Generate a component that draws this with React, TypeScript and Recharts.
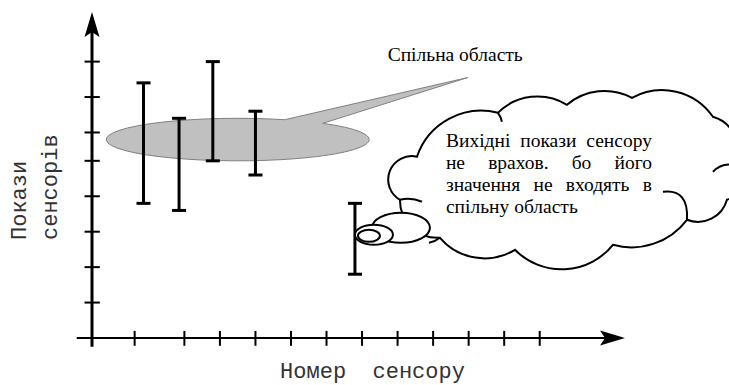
import React from "react";
import {
  ScatterChart,
  Scatter,
  XAxis,
  YAxis,
  ErrorBar,
  ReferenceLine,
  ReferenceArea,
  ReferenceDot,
} from "recharts";

// sensor readings: position on the axis and the [low, high] range of each one
const sensors = [1.45, 2.45, 3.4, 4.6, 7.4];
const lows = [3.8, 3.6, 5.0, 4.6, 1.8];
const highs = [7.2, 6.2, 7.8, 6.4, 3.8];

const xTicks = [1.2, 2.6, 3.6, 4.6, 5.6, 6.6, 7.6, 8.6, 9.6, 10.6, 11.6, 12.6];
const yTicks = [1, 2, 3, 4, 5, 5.8, 6.8, 7.8];

const cloudLines = [
  "Вихідні покази сенсору",
  "не врахов. бо його",
  "значення не входять в",
  "спільну область",
];

const X_MAX = 15;
const Y_MAX = 9.2;
const AGREEING = 4; // first four sensors overlap, the fifth doesn't

const points = sensors.map((x, i) => ({
  x,
  mid: (lows[i] + highs[i]) / 2,
  err: (highs[i] - lows[i]) / 2,
}));
const commonLow = Math.max(...lows.slice(0, AGREEING));
const commonHigh = Math.min(...highs.slice(0, AGREEING));
const outlier = points[AGREEING];

const MONO = "'Liberation Mono', 'Courier New', monospace";
const SERIF = "'Liberation Serif', 'Times New Roman', serif";
const SERIF_SIZE = 19.5;

let ctx: CanvasRenderingContext2D | null = null;
const textWidth = (s: string) => {
  if (!ctx) ctx = document.createElement("canvas").getContext("2d");
  if (!ctx) return s.length * SERIF_SIZE * 0.45;
  ctx.font = `${SERIF_SIZE}px "Liberation Serif"`;
  return ctx.measureText(s).width;
};

// axis line with a filled arrow head at the second point
const arrowShape = (w: number) => (p: any) => {
  const { x1, y1, x2, y2 } = p;
  const len = Math.hypot(x2 - x1, y2 - y1);
  const ux = (x2 - x1) / len;
  const uy = (y2 - y1) / len;
  const nx = -uy;
  const ny = ux;
  const head = 25;
  const half = 7.5;
  const bx = x2 - ux * head;
  const by = y2 - uy * head;
  const kx = x2 - ux * (head - 5);
  const ky = y2 - uy * (head - 5);
  return (
    <g>
      <line x1={x1} y1={y1} x2={kx} y2={ky} stroke="#000" strokeWidth={w} />
      <polygon
        points={`${x2},${y2} ${bx + nx * half},${by + ny * half} ${kx},${ky} ${bx - nx * half},${by - ny * half}`}
        fill="#000"
      />
    </g>
  );
};

// grey ellipse over the common range, with a pointer to its caption
const CommonRegion = (p: any) => {
  const { x, y, width, height } = p;
  const rx = width / 2;
  const ry = height / 2;
  const cx = x + rx;
  const cy = y + ry;
  const top = (dx: number) => cy - ry * Math.sqrt(1 - (dx / rx) ** 2);
  const a = 47;
  const b = 85;
  const d = `M${cx + a},${top(a)} L${cx + 230},${cy - 62} L${cx + b},${top(b)} A${rx},${ry} 0 1 1 ${cx + a},${top(a)} Z`;
  return (
    <g>
      <path d={d} fill="#c0c0c0" stroke="#808080" strokeWidth={1} />
      <text x={cx + 150} y={cy - 79} fontFamily={SERIF} fontSize={SERIF_SIZE} fill="#000">
        Спільна область
      </text>
    </g>
  );
};

// thought cloud, drawn relative to the outlier's mid point
const cloudOutline: [number, number, number][] = [
  [45, -39, 12],
  [62, -82, 20],
  [143, -126, 18],
  [212, -134, 12],
  [277, -141, 10],
  [358, -122, 16],
  [380, -74, 12],
  [372, -39, 10],
  [332, -19, 10],
  [258, 6, 12],
  [160, 11, 22],
  [85, -1, 14],
];
// short inner strokes at some bump joints: start, control, end
const cloudTails: number[][] = [
  [45, -39, 56, -42, 67, -37],
  [85, -1, 80, 3, 74, 4],
  [332, -19, 334, -50, 308, -47],
  [380, -74, 366, -76, 358, -67],
  [143, -126, 146, -122, 147, -117],
];

const JustifiedLine = ({ x, y, width, text }: any) => {
  const words = text.split(" ");
  const widths = words.map(textWidth);
  const total = widths.reduce((s: number, w: number) => s + w, 0);
  const gap = Math.max(4, (width - total) / (words.length - 1));
  let cur = x;
  return (
    <text y={y} fontFamily={SERIF} fontSize={SERIF_SIZE} fill="#000">
      {words.map((w: string, i: number) => {
        const el = (
          <tspan key={i} x={cur}>
            {w}
          </tspan>
        );
        cur += widths[i] + gap;
        return el;
      })}
    </text>
  );
};

const Cloud = (p: any) => {
  const { cx, cy } = p;
  const n = cloudOutline.length;
  let d = `M${cx + cloudOutline[n - 1][0]},${cy + cloudOutline[n - 1][1]}`;
  let prev = cloudOutline[n - 1];
  cloudOutline.forEach((pt) => {
    const c = Math.hypot(pt[0] - prev[0], pt[1] - prev[1]);
    const s = pt[2];
    const r = (c * c) / 4 / (2 * s) + s / 2;
    d += ` A${r},${r} 0 0 1 ${cx + pt[0]},${cy + pt[1]}`;
    prev = pt;
  });
  return (
    <g>
      <path d={d + " Z"} fill="#fff" stroke="#000" strokeWidth={2} />
      {cloudTails.map((t, i) => (
        <path
          key={i}
          d={`M${cx + t[0]},${cy + t[1]} Q${cx + t[2]},${cy + t[3]} ${cx + t[4]},${cy + t[5]}`}
          fill="none"
          stroke="#000"
          strokeWidth={2}
        />
      ))}
      <ellipse cx={cx + 46} cy={cy - 11} rx={29} ry={15} fill="#fff" stroke="#000" strokeWidth={2} />
      <ellipse cx={cx + 19} cy={cy - 4} rx={19} ry={10} fill="#fff" stroke="#000" strokeWidth={2} />
      <ellipse cx={cx + 14} cy={cy - 3} rx={11} ry={6} fill="#fff" stroke="#000" strokeWidth={2} />
      {cloudLines.map((line, i) =>
        i < cloudLines.length - 1 ? (
          <JustifiedLine key={i} x={cx + 91} y={cy - 92 + i * 22} width={206} text={line} />
        ) : (
          <text key={i} x={cx + 91} y={cy - 92 + i * 22} fontFamily={SERIF} fontSize={SERIF_SIZE} fill="#000">
            {line}
          </text>
        )
      )}
    </g>
  );
};

const App = () => {
  return (
    <div style={{ position: "absolute", left: 0, top: 0, background: "#fff" }}>
      <ScatterChart width={729} height={385} margin={{ top: 12, right: 104, bottom: 0, left: 0 }}>
        <XAxis
          type="number"
          dataKey="x"
          domain={[0, X_MAX]}
          ticks={xTicks}
          allowDataOverflow
          height={47}
          tick={false}
          tickLine={false}
          axisLine={false}
          label={{
            content: ({ viewBox }: any) => (
              <text
                x={viewBox.x + viewBox.width / 2 + 14}
                y={viewBox.y + 40}
                textAnchor="middle"
                fontFamily={MONO}
                fontSize={22}
                fill="#333"
                style={{ whiteSpace: "pre" }}
              >
                {"Номер  сенсору"}
              </text>
            ),
          }}
        />
        <YAxis
          type="number"
          dataKey="mid"
          domain={[0, Y_MAX]}
          ticks={yTicks}
          allowDataOverflow
          width={92}
          tick={false}
          tickLine={false}
          axisLine={false}
          label={{
            content: () => (
              <g fontFamily={MONO} fontSize={22} fill="#333">
                <text transform="translate(26,240) rotate(-90)">Покази</text>
                <text transform="translate(57,240) rotate(-90)">сенсорів</text>
              </g>
            ),
          }}
        />

        <ReferenceArea
          x1={0.4}
          x2={7.8}
          y1={commonLow}
          y2={commonHigh}
          ifOverflow="visible"
          shape={CommonRegion}
        />

        <ReferenceLine
          segment={[{ x: -0.43, y: 0 }, { x: X_MAX, y: 0 }]}
          ifOverflow="visible"
          shape={arrowShape(2)}
        />
        <ReferenceLine
          segment={[{ x: 0, y: -0.25 }, { x: 0, y: Y_MAX }]}
          ifOverflow="visible"
          shape={arrowShape(3)}
        />
        {xTicks.map((t) => (
          <ReferenceLine
            key={"x" + t}
            segment={[{ x: t, y: -0.22 }, { x: t, y: 0.2 }]}
            ifOverflow="visible"
            stroke="#000"
            strokeWidth={2}
          />
        ))}
        {yTicks.map((t) => (
          <ReferenceLine
            key={"y" + t}
            segment={[{ x: -0.21, y: t }, { x: 0.22, y: t }]}
            ifOverflow="visible"
            stroke="#000"
            strokeWidth={2}
          />
        ))}

        <ReferenceDot
          x={outlier.x}
          y={outlier.mid}
          r={0}
          ifOverflow="visible"
          shape={Cloud}
        />

        <Scatter data={points} isAnimationActive={false} shape={() => <g />}>
          <ErrorBar
            dataKey="err"
            direction="y"
            width={7}
            stroke="#000"
            strokeWidth={3}
            isAnimationActive={false}
          />
        </Scatter>
      </ScatterChart>
    </div>
  );
};

export default App;
